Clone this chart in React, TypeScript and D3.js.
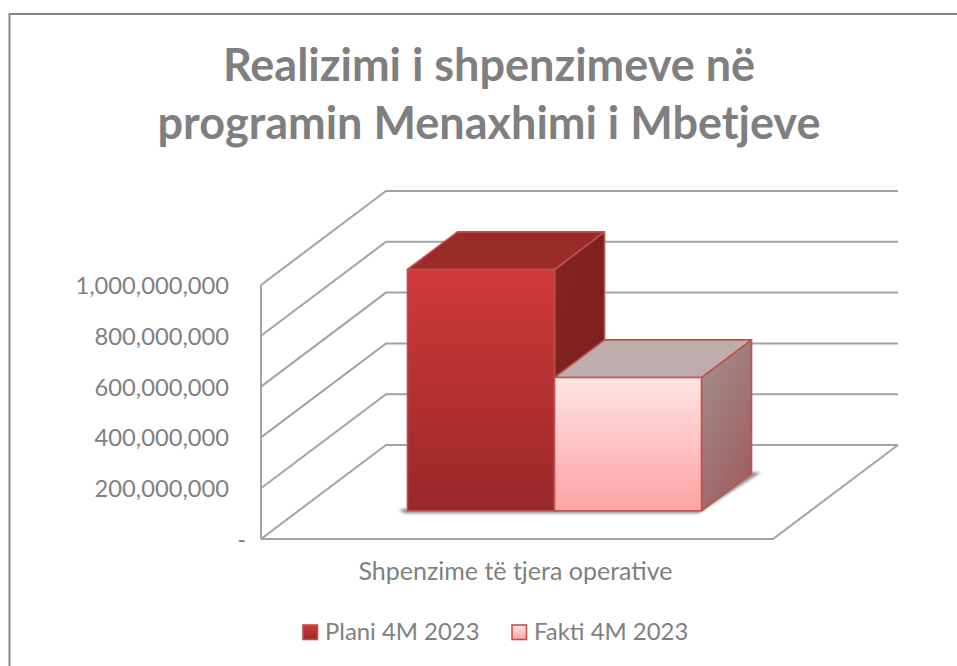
import React from "react";
import * as d3 from "d3";

const title = ["Realizimi i shpenzimeve në", "programin Menaxhimi i Mbetjeve"];
const category = "Shpenzime të tjera operative";
const seriesNames = ["Plani 4M 2023", "Fakti 4M 2023"];
const seriesValues = [950000000, 525000000];
const yTicks = [0, 200000000, 400000000, 600000000, 800000000, 1000000000];
const yTickLabels = ["-", "200,000,000", "400,000,000", "600,000,000", "800,000,000", "1,000,000,000"];

const y = d3.scaleLinear().domain([0, 1000000000]).range([539, 285]);
const xFront = d3.scaleBand<string>().domain(seriesNames).range([261, 773]).paddingInner(0).paddingOuter(0.741);
const depthX = d3.scaleLinear().domain([0, 1]).range([0, 125]);
const depthY = d3.scaleLinear().domain([0, 1]).range([0, -94]);
const gray = "#a3a3a3";
const textGray = "#7f7f7f";
const font = "Lato, sans-serif";
const poly = d3.line<[number, number]>();
const P = (x: number, v: number, z: number): [number, number] => [x + depthX(z), y(v) + depthY(z)];

const styles = [
  { f0: "#d03a38", f1: "#98282a", top: "#992b2a", s0: "#85241f", s1: "#78201e", stroke: "#bd4f4e" },
  { f0: "#ffe4e4", f1: "#ffa2a2", top: "#bfadad", s0: "#a09291", s1: "#a06060", stroke: "#c0504d" },
];

export default function App() {
  const z0 = 0.3;
  const z1 = 0.7;
  const bw = xFront.bandwidth();
  const xMin = 261;
  const xMax = 773;
  const left = xFront(seriesNames[0])!;
  const right = xFront(seriesNames[1])! + bw;
  return (
    <svg width={957} height={666} style={{ position: "absolute", left: 0, top: 0, background: "#fff" }}>
      <defs>
        {styles.map((s, i) => (
          <React.Fragment key={i}>
            <linearGradient id={`front${i}`} x1="0" y1="0" x2="0" y2="1">
              <stop offset="0" stopColor={s.f0} />
              <stop offset="1" stopColor={s.f1} />
            </linearGradient>
            <linearGradient id={`side${i}`} x1="0" y1="0" x2="0.6" y2="1">
              <stop offset="0" stopColor={s.s0} />
              <stop offset="1" stopColor={s.s1} />
            </linearGradient>
          </React.Fragment>
        ))}
        <filter id="blur" x="-10%" y="-10%" width="120%" height="120%">
          <feGaussianBlur stdDeviation="1.5" />
        </filter>
      </defs>
      <path d="M9.5 666V14H957" fill="none" stroke="#868686" strokeWidth={2} />
      {title.map((t, i) => (
        <text key={t} x={489} y={[81, 139][i]} textAnchor="middle" fontFamily={font} fontWeight={700} fontSize={45} fill={textGray}>
          {t}
        </text>
      ))}

      {yTicks.map((t) => (
        <path
          key={t}
          d={poly([P(xMin, t, 0), P(xMin, t, 1), P(xMax, t, 1)]) ?? ""}
          fill="none"
          stroke={gray}
          strokeWidth={2}
        />
      ))}
      <path d={poly([P(xMin, 0, 0), P(xMin, 1000000000, 0)]) ?? ""} stroke={gray} strokeWidth={2} fill="none" />
      <path d={poly([P(xMin, 0, 0), P(xMax, 0, 0), P(xMax, 0, 1)]) ?? ""} stroke={gray} strokeWidth={2} fill="none" />

      {yTicks.map((t, i) => (
        <text key={t} x={t === 0 ? 246 : 229} y={y(t) + 9} textAnchor="end" fontFamily={font} fontSize={23.7} fill={textGray}>
          {yTickLabels[i]}
        </text>
      ))}

      <path
        d={(poly([
          P(left - 10, 0, z0 + 0.01),
          P(left, 0, z0 - 0.025),
          P(right, 0, z0 - 0.025),
          P(right + 8, 0, z1 + 0.01),
          P(right - 4, 0, z1 + 0.01),
        ]) ?? "") + "Z"}
        fill="#8a8a8a"
        filter="url(#blur)"
      />

      {seriesNames.map((name, i) => {
        const x0 = xFront(name)!;
        const x1 = x0 + bw;
        const v = seriesValues[i];
        const s = styles[i];
        const front = [P(x0, 0, z0), P(x1, 0, z0), P(x1, v, z0), P(x0, v, z0)];
        const top = [P(x0, v, z0), P(x1, v, z0), P(x1, v, z1), P(x0, v, z1)];
        const side = [P(x1, 0, z0), P(x1, 0, z1), P(x1, v, z1), P(x1, v, z0)];
        return (
          <g key={name} stroke={s.stroke} strokeWidth={1.6} strokeLinejoin="round">
            <path d={(poly(side) ?? "") + "Z"} fill={`url(#side${i})`} />
            <path d={(poly(top) ?? "") + "Z"} fill={s.top} />
            <path d={(poly(front) ?? "") + "Z"} fill={`url(#front${i})`} />
          </g>
        );
      })}

      <text x={515.5} y={580} textAnchor="middle" fontFamily={font} fontSize={25} fill={textGray}>
        {category}
      </text>

      {seriesNames.map((name, i) => {
        const lx = [303, 512][i];
        const s = styles[i];
        return (
          <g key={name}>
            <rect x={lx} y={625} width={14.5} height={14.5} fill={`url(#front${i})`} stroke={s.stroke} strokeWidth={1.6} />
            <text x={lx + 22} y={640} fontFamily={font} fontSize={23.9} fill={textGray}>
              {name}
            </text>
          </g>
        );
      })}
    </svg>
  );
}
